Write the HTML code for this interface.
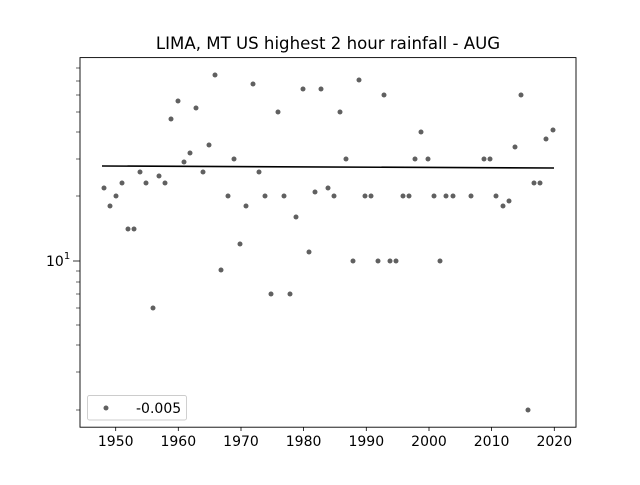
<!DOCTYPE html>
<html><head><meta charset="utf-8"><style>body{margin:0;background:#fff}</style></head><body>
<svg width="640" height="480" xmlns="http://www.w3.org/2000/svg" font-family="'DejaVu Sans', 'Liberation Sans', sans-serif">
<rect width="640" height="480" fill="#fff"/>
<text x="328" y="49" font-size="16.6" text-anchor="middle">LIMA, MT US highest 2 hour rainfall - AUG</text>
<g id="pts" fill="#606060">
<circle cx="104" cy="188" r="2.5"/><circle cx="110" cy="206" r="2.5"/><circle cx="116" cy="196" r="2.5"/><circle cx="122" cy="183" r="2.5"/><circle cx="128" cy="229" r="2.5"/><circle cx="134" cy="229" r="2.5"/><circle cx="140" cy="172" r="2.5"/><circle cx="146" cy="183" r="2.5"/><circle cx="153" cy="308" r="2.5"/><circle cx="159" cy="176" r="2.5"/><circle cx="165" cy="183" r="2.5"/><circle cx="171" cy="119" r="2.5"/><circle cx="178" cy="101" r="2.5"/><circle cx="184" cy="162" r="2.5"/><circle cx="190" cy="153" r="2.5"/><circle cx="196" cy="108" r="2.5"/><circle cx="203" cy="172" r="2.5"/><circle cx="209" cy="145" r="2.5"/><circle cx="215" cy="75" r="2.5"/><circle cx="221" cy="270" r="2.5"/><circle cx="228" cy="196" r="2.5"/><circle cx="234" cy="159" r="2.5"/><circle cx="240" cy="244" r="2.5"/><circle cx="246" cy="206" r="2.5"/><circle cx="253" cy="84" r="2.5"/><circle cx="259" cy="172" r="2.5"/><circle cx="265" cy="196" r="2.5"/><circle cx="271" cy="294" r="2.5"/><circle cx="278" cy="112" r="2.5"/><circle cx="284" cy="196" r="2.5"/><circle cx="290" cy="294" r="2.5"/><circle cx="296" cy="217" r="2.5"/><circle cx="303" cy="89" r="2.5"/><circle cx="309" cy="252" r="2.5"/><circle cx="315" cy="192" r="2.5"/><circle cx="321" cy="89" r="2.5"/><circle cx="328" cy="188" r="2.5"/><circle cx="334" cy="196" r="2.5"/><circle cx="340" cy="112" r="2.5"/><circle cx="346" cy="159" r="2.5"/><circle cx="353" cy="261" r="2.5"/><circle cx="359" cy="80" r="2.5"/><circle cx="365" cy="196" r="2.5"/><circle cx="371" cy="196" r="2.5"/><circle cx="378" cy="261" r="2.5"/><circle cx="384" cy="95" r="2.5"/><circle cx="390" cy="261" r="2.5"/><circle cx="396" cy="261" r="2.5"/><circle cx="403" cy="196" r="2.5"/><circle cx="409" cy="196" r="2.5"/><circle cx="415" cy="159" r="2.5"/><circle cx="421" cy="132" r="2.5"/><circle cx="428" cy="159" r="2.5"/><circle cx="434" cy="196" r="2.5"/><circle cx="440" cy="261" r="2.5"/><circle cx="446" cy="196" r="2.5"/><circle cx="453" cy="196" r="2.5"/><circle cx="471" cy="196" r="2.5"/><circle cx="484" cy="159" r="2.5"/><circle cx="490" cy="159" r="2.5"/><circle cx="496" cy="196" r="2.5"/><circle cx="503" cy="206" r="2.5"/><circle cx="509" cy="201" r="2.5"/><circle cx="515" cy="147" r="2.5"/><circle cx="521" cy="95" r="2.5"/><circle cx="528" cy="410" r="2.5"/><circle cx="534" cy="183" r="2.5"/><circle cx="540" cy="183" r="2.5"/><circle cx="546" cy="139" r="2.5"/><circle cx="553" cy="130" r="2.5"/>
</g>
<line x1="102" y1="166" x2="554" y2="168" stroke="#000" stroke-width="1.6"/>
<rect x="80" y="57.6" width="496" height="369.6" fill="none" stroke="#000" stroke-width="0.9"/>
<g stroke="#000" stroke-width="0.8">
<line x1="115.7" y1="427" x2="115.7" y2="431"/><line x1="178.3" y1="427" x2="178.3" y2="431"/><line x1="241" y1="427" x2="241" y2="431"/><line x1="303.6" y1="427" x2="303.6" y2="431"/><line x1="366.3" y1="427" x2="366.3" y2="431"/><line x1="429" y1="427" x2="429" y2="431"/><line x1="491.6" y1="427" x2="491.6" y2="431"/><line x1="554.3" y1="427" x2="554.3" y2="431"/>
<line x1="73" y1="261" x2="80" y2="261"/>
<g stroke-width="0.6">
<line x1="76" y1="196" x2="80" y2="196"/><line x1="76" y1="159" x2="80" y2="159"/><line x1="76" y1="132" x2="80" y2="132"/><line x1="76" y1="112" x2="80" y2="112"/><line x1="76" y1="95" x2="80" y2="95"/><line x1="76" y1="81" x2="80" y2="81"/><line x1="76" y1="68" x2="80" y2="68"/>
<line x1="76" y1="271" x2="80" y2="271"/><line x1="76" y1="282" x2="80" y2="282"/><line x1="76" y1="294" x2="80" y2="294"/><line x1="76" y1="308" x2="80" y2="308"/><line x1="76" y1="325" x2="80" y2="325"/><line x1="76" y1="345" x2="80" y2="345"/><line x1="76" y1="372" x2="80" y2="372"/><line x1="76" y1="410" x2="80" y2="410"/>
</g></g>
<g font-size="14" text-anchor="middle">
<text x="115.7" y="446">1950</text><text x="178.3" y="446">1960</text><text x="241" y="446">1970</text><text x="303.6" y="446">1980</text><text x="366.3" y="446">1990</text><text x="429" y="446">2000</text><text x="491.6" y="446">2010</text><text x="554.3" y="446">2020</text>
</g>
<text x="46" y="266" font-size="14">10<tspan font-size="10" dy="-7">1</tspan></text>
<rect x="87.5" y="395.5" width="99" height="24.5" rx="2" fill="#fff" stroke="#ccc" stroke-width="0.9"/>
<circle cx="106" cy="408" r="2.5" fill="#606060"/>
<text x="136" y="413" font-size="14">-0.005</text>
</svg>
</body></html>
